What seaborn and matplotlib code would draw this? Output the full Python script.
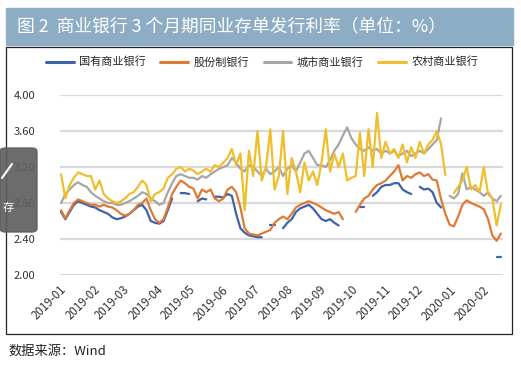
import numpy as np
import pandas as pd
import matplotlib
matplotlib.use('Agg')
import matplotlib.pyplot as plt
import matplotlib.dates as mdates
from matplotlib.lines import Line2D
from matplotlib.patches import Rectangle, FancyBboxPatch
import seaborn as sns

nan = np.nan

# sample dates (every 4 days) and month ticks
dates = pd.date_range('2019-01-02', '2020-02-20', freq='4D')
month_ticks = pd.date_range('2019-01-01', '2020-02-01', freq='MS')

series_names = ['国有商业银行', '股份制银行', '城市商业银行', '农村商业银行']

state_owned = [2.70, 2.62, 2.70, 2.78, 2.82, 2.80, 2.78, 2.76, 2.75, 2.72,
               2.70, 2.68, 2.64, 2.62, 2.63, 2.65, 2.68, 2.72, 2.76, 2.78,
               2.72, 2.60, 2.58, 2.57, 2.60, 2.72, 2.85, nan, 2.91, 2.91,
               2.90, nan, 2.82, 2.85, 2.84, nan, 2.87, 2.87, 2.86, 2.90,
               2.88, 2.68, 2.52, 2.47, 2.44, 2.43, 2.42, 2.42, nan, 2.56,
               2.56, nan, 2.52, 2.58, 2.62, 2.70, 2.74, 2.76, 2.78, 2.74,
               2.68, 2.62, 2.60, 2.62, 2.58, 2.55, nan, nan, nan, nan,
               2.76, 2.76, nan, 2.88, 2.92, 2.98, 3.00, 3.00, 3.02, 3.02,
               2.95, 2.92, 2.90, nan, 2.98, 2.95, 2.96, 2.92, 2.80, 2.75,
               nan, nan, nan, nan, nan, nan, nan, nan, nan, nan,
               nan, nan, 2.20, 2.20]

joint_stock = [2.72, 2.63, 2.72, 2.80, 2.84, 2.82, 2.80, 2.78, 2.78, 2.76,
               2.78, 2.76, 2.75, 2.72, 2.68, 2.66, 2.68, 2.72, 2.78, 2.80,
               2.85, 2.72, 2.62, 2.58, 2.62, 2.75, 2.90, 2.98, 3.05, 3.02,
               2.98, 2.96, 2.85, 2.95, 2.92, 2.95, 2.85, 2.82, 2.85, 2.95,
               2.98, 2.92, 2.75, 2.52, 2.46, 2.45, 2.44, 2.46, 2.48, 2.50,
               2.58, 2.62, 2.65, 2.62, 2.68, 2.75, 2.78, 2.80, 2.82, 2.80,
               2.78, 2.75, 2.72, 2.70, 2.68, 2.70, 2.62, nan, nan, 2.70,
               2.78, 2.85, 2.88, 2.95, 3.00, 3.02, 3.05, 3.10, 3.15, 3.22,
               3.05, 3.10, 3.08, 3.12, 3.14, 3.10, 3.12, 3.06, 3.05, 2.84,
               2.68, 2.56, 2.54, 2.65, 2.78, 2.83, 2.80, 2.78, 2.76, 2.73,
               2.62, 2.44, 2.38, 2.46]

city = [2.80, 2.90, 2.95, 3.00, 3.03, 3.00, 2.98, 2.92, 2.88, 2.85,
        2.82, 2.80, 2.80, 2.78, 2.78, 2.80, 2.82, 2.85, 2.88, 2.92,
        2.90, 2.85, 2.82, 2.78, 2.80, 2.92, 3.02, 3.10, 3.12, 3.10,
        3.08, 3.08, 3.06, 3.10, 3.08, 3.12, 3.15, 3.18, 3.20, 3.22,
        3.30, 3.25, 3.18, 3.15, 3.22, 3.20, 3.15, 3.10, 3.18, 3.12,
        3.15, 3.20, 3.10, 3.18, 3.22, 3.15, 3.25, 3.35, 3.38, 3.30,
        3.22, 3.22, 3.20, 3.28, 3.38, 3.45, 3.55, 3.64, 3.52, 3.45,
        3.40, 3.38, 3.42, 3.38, 3.40, 3.35, 3.38, 3.35, 3.38, 3.32,
        3.35, 3.38, 3.32, 3.35, 3.38, 3.35, 3.40, 3.45, 3.50, 3.74,
        nan, 2.88, 2.85, 2.90, 3.13, 2.95, 2.98, 2.95, 2.92, 2.88,
        2.92, 2.85, 2.82, 2.88]

rural = [3.12, 2.85, 3.00, 3.08, 3.14, 3.12, 3.10, 3.10, 2.95, 3.05,
         2.90, 2.85, 2.82, 2.80, 2.82, 2.85, 2.90, 2.92, 2.98, 3.05,
         3.00, 2.82, 2.90, 2.92, 2.96, 3.08, 3.12, 3.18, 3.20, 3.15,
         3.18, 3.16, 3.12, 3.15, 3.18, 3.15, 3.22, 3.20, 3.25, 3.30,
         3.40, 3.22, 3.35, 2.72, 3.38, 3.10, 3.60, 3.05, 3.20, 3.62,
         2.95, 3.10, 3.60, 2.90, 3.30, 3.15, 2.92, 3.25, 3.05, 3.15,
         3.00, 3.25, 3.62, 3.15, 3.35, 3.20, 3.35, 3.05, 3.08, 3.10,
         3.58, 3.10, 3.62, 3.20, 3.80, 3.30, 3.48, 3.35, 3.40, 3.30,
         3.45, 3.25, 3.42, 3.30, 3.48, 3.35, 3.45, 3.50, 3.60, 3.45,
         3.11, nan, 2.91, 2.98, 3.05, 3.20, 2.95, 3.00, 2.92, 3.20,
         2.90, 2.85, 2.55, 2.78]

colors = ['#3D63A8', '#E07A33', '#A6A6A6', '#F0BE2A']
y_ticks = [2.00, 2.40, 2.80, 3.20, 3.60, 4.00]

# long format, split at gaps so lines break like the original
frames = []
for name, vals in zip(series_names, [state_owned, joint_stock, city, rural]):
    s = pd.Series(vals, index=dates)
    seg = s.isna().cumsum()
    d = pd.DataFrame({'date': dates, 'rate': s.values, 'bank': name,
                      'seg': [f'{name}_{k}' for k in seg.values]})
    frames.append(d.dropna())
df = pd.concat(frames, ignore_index=True)

sns.set_theme(style='white')
plt.rcParams['font.family'] = ['Noto Sans CJK SC', 'DejaVu Sans']

fig = plt.figure(figsize=(5.21, 3.65), dpi=100)
W, H = 521, 365

# title bar
fig.patches.append(Rectangle((6 / W, 1 - 45 / H), 507 / W, 37 / H,
                             transform=fig.transFigure, color='#8DADC5', zorder=0))
fig.text(17 / W, 1 - 27 / H, '图 2  商业银行 3 个月期同业存单发行利率（单位：%）',
         color='white', fontsize=12.8, va='center', ha='left')
# chart frame
fig.patches.append(Rectangle((6 / W, 1 - 334 / H), 506 / W, 287 / H,
                             transform=fig.transFigure, fill=False,
                             edgecolor='#222222', lw=0.9, zorder=0))
fig.text(8 / W, 1 - 351 / H, '数据来源：Wind', color='#222222', fontsize=9.5,
         va='center', ha='left')

ax = fig.add_axes([60 / W, 1 - 275 / H, 443 / W, 180 / H])
sns.lineplot(data=df, x='date', y='rate', hue='bank', units='seg',
             estimator=None, hue_order=series_names, palette=colors,
             lw=1.6, legend=False, ax=ax, clip_on=False)

ax.set_xlim(pd.Timestamp('2019-01-01'), pd.Timestamp('2020-02-20'))
ax.set_ylim(2.0, 4.0)
ax.set_yticks(y_ticks)
ax.set_yticklabels([f'{v:.2f}' for v in y_ticks], fontsize=8, color='#333333')
ax.set_xticks(month_ticks)
ax.xaxis.set_major_formatter(mdates.DateFormatter('%Y-%m'))
for lab in ax.get_xticklabels():
    lab.set_rotation(45)
    lab.set_ha('right')
    lab.set_rotation_mode('anchor')
    lab.set_fontsize(8.3)
    lab.set_color('#333333')
ax.set_xlabel('')
ax.set_ylabel('')
ax.grid(axis='y', color='#D9D9D9', lw=1.6)
ax.set_axisbelow(True)
for side in ['left', 'right', 'top', 'bottom']:
    ax.spines[side].set_visible(False)
ax.tick_params(axis='y', length=0, pad=18)
ax.tick_params(axis='x', length=4, width=1, color='#D0D0D0', pad=2)

handles = [Line2D([0], [0], color=c, lw=2.2) for c in colors]
fig.legend(handles, series_names, loc='center', ncol=4, frameon=False,
           bbox_to_anchor=(262 / W, 1 - 62 / H), fontsize=8,
           handlelength=2.5, columnspacing=1.3, handletextpad=0.5)

# screenshot overlay on the left edge
fig.patches.append(FancyBboxPatch((0, 1 - 232 / H), 37 / W, 84 / H,
                                  boxstyle='round,pad=0,rounding_size=0.01',
                                  transform=fig.transFigure, color='#5F5F5F',
                                  alpha=0.92, zorder=5))
fig.lines.append(Line2D([2 / W, 12 / W], [1 - 178 / H, 1 - 164 / H],
                        transform=fig.transFigure, color='white', lw=1.5, zorder=6))
fig.text(8 / W, 1 - 208 / H, '存', color='white', fontsize=8, va='center',
         ha='center', zorder=7)

fig.savefig('out.png', dpi=100)
